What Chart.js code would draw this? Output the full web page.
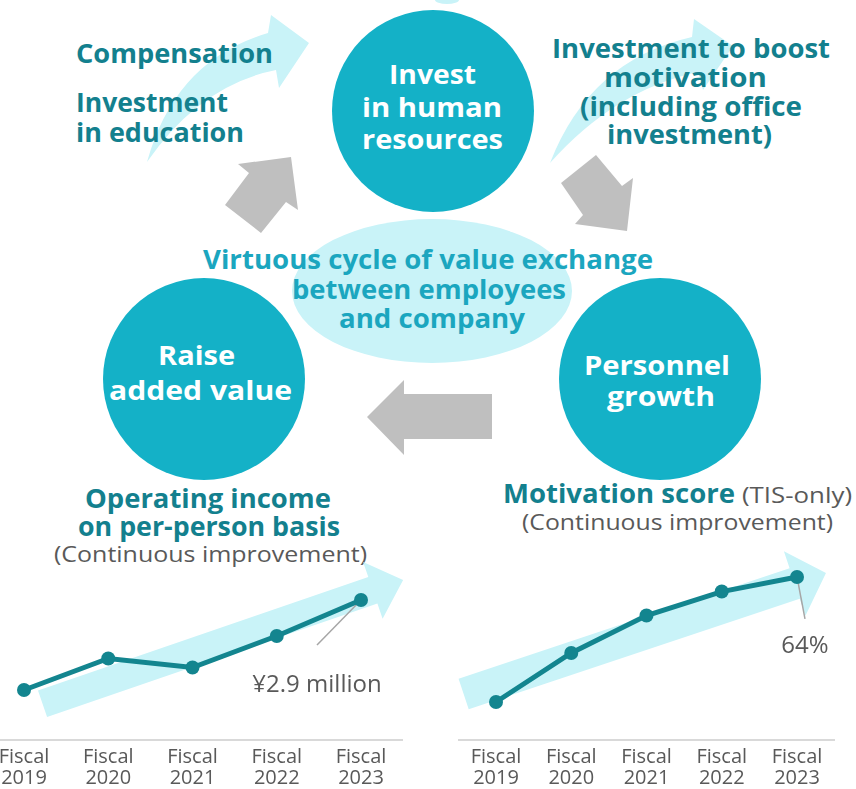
<!DOCTYPE html>
<html>
<head>
<meta charset="utf-8">
<script src="https://cdn.jsdelivr.net/npm/chart.js@4.4.1/dist/chart.umd.min.js"></script>
<style>
  html, body { margin: 0; padding: 0; background: #fff; }
  #wrap { position: relative; width: 856px; height: 789px; overflow: hidden; }
  #diagram { position: absolute; left: 0; top: 0; }
  .chart { position: absolute; }
  #income-box { left: -30px; top: 560px; }
  #motivation-box { left: 440px; top: 540px; }
</style>
</head>
<body>
<div id="wrap">
  <svg id="diagram" width="856" height="789" xmlns="http://www.w3.org/2000/svg">
    <!-- light blue curved arrows -->
    <path d="M147,162 Q175,60 268,33 L271,15 L309,43 L279,88 L276,70 Q200,85 147,162 Z" fill="#c9f3f8"/>
    <path d="M550,163 Q590,60 692,37 L694,19 L733,46 L703,90 L698,72 Q615,90 550,163 Z" fill="#c9f3f8"/>
    <ellipse cx="447" cy="0" rx="12" ry="4" fill="#c9f3f8"/>
    <!-- grey cycle arrows -->
    <polygon points="238,164 291,157 298,210 286,202 261,233 225,205 249,173" fill="#bfbfbf"/>
    <polygon points="596,155 622,186 633,178 627,231 575,224 583,215 561,183" fill="#bfbfbf"/>
    <polygon points="367,417 404,380 404,394 492,394 492,439 404,439 404,455" fill="#bfbfbf"/>
    <!-- circles -->
    <circle cx="433" cy="111" r="101" fill="#14b1c7"/>
    <circle cx="204" cy="379" r="101" fill="#14b1c7"/>
    <circle cx="660" cy="379" r="101" fill="#14b1c7"/>
    <ellipse cx="432" cy="291" rx="140" ry="72" fill="#c9f3f8"/>
    <g id="texts" font-family="'Open Sans', sans-serif"></g>
  </svg>
  <div class="chart" id="income-box"><canvas id="chart-income" width="440" height="236"></canvas></div>
  <div class="chart" id="motivation-box"><canvas id="chart-motivation" width="416" height="256"></canvas></div>
</div>
<script>
// data
const years = ["2019", "2020", "2021", "2022", "2023"];
const incomeValues = [2.5, 2.64, 2.6, 2.74, 2.9];       // ¥ million per person
const motivationValues = [52, 56.7, 60.3, 62.6, 64];    // %
const incomeCallout = "¥2.9 million";
const motivationCallout = "64%";

const teal = "#13808e";
const lineColor = "#13858f";
const paleBlue = "#c9f3f8";
const grey = "#595959";
const font = "'Open Sans', sans-serif";

// diagram text: [text, centre x, baseline, width, size, weight, colour]
const W = "#ffffff", C = "#1ba6bf";
const texts = [
  ["Compensation", 174.5, 63, 197, 27, 700, teal],
  ["Investment", 152, 112, 152, 27, 700, teal],
  ["in education", 160, 142, 168, 27, 700, teal],
  ["Investment to boost", 691, 58, 278, 27, 700, teal],
  ["motivation", 685.5, 87, 163, 27, 700, teal],
  ["(including office", 691, 116, 222, 27, 700, teal],
  ["investment)", 689.5, 144, 165, 27, 700, teal],
  ["Invest", 432.5, 84, 87, 27, 700, W],
  ["in human", 432, 117, 140, 27, 700, W],
  ["resources", 432.5, 149, 141, 27, 700, W],
  ["Raise", 196.5, 365, 77, 27, 700, W],
  ["added value", 200.5, 400, 183, 27, 700, W],
  ["Personnel", 657, 375, 146, 27, 700, W],
  ["growth", 661, 406, 108, 27, 700, W],
  ["Virtuous cycle of value exchange", 428, 269, 450, 27, 700, C],
  ["between employees", 429, 299, 274, 27, 700, C],
  ["and company", 432, 328, 186, 27, 700, C],
  ["Operating income", 208, 508, 246, 27, 700, teal],
  ["on per-person basis", 209, 536, 262, 27, 700, teal],
  ["(Continuous improvement)", 210.5, 562, 313, 22, 400, grey],
  ["Motivation score", 619, 503, 232, 27, 700, teal],
  ["(TIS-only)", 797, 503, 110, 22, 400, grey],
  ["(Continuous improvement)", 677.5, 530, 311, 22, 400, grey],
];
const g = document.getElementById("texts");
texts.forEach(([t, x, y, w, size, weight, color]) => {
  const el = document.createElementNS("http://www.w3.org/2000/svg", "text");
  el.setAttribute("x", x);
  el.setAttribute("y", y);
  el.setAttribute("text-anchor", "middle");
  el.setAttribute("textLength", w);
  el.setAttribute("lengthAdjust", "spacingAndGlyphs");
  el.setAttribute("font-size", size);
  el.setAttribute("font-weight", weight);
  el.setAttribute("fill", color);
  el.textContent = t;
  g.appendChild(el);
});

// trend arrow behind the line, axis rule and value callout
const trendArrow = {
  id: "trendArrow",
  beforeDatasetsDraw(chart, args, opts) {
    const { ctx, scales: { x, y } } = chart;
    const x0 = x.getPixelForValue(opts.from[0]), y0 = y.getPixelForValue(opts.from[1]);
    const x1 = x.getPixelForValue(opts.to[0]), y1 = y.getPixelForValue(opts.to[1]);
    const len = Math.hypot(x1 - x0, y1 - y0);
    const ux = (x1 - x0) / len, uy = (y1 - y0) / len;
    const nx = -uy, ny = ux;
    const bx = x1 - ux * opts.headLen, by = y1 - uy * opts.headLen;
    const pts = [
      [x0 + nx * opts.body, y0 + ny * opts.body],
      [bx + nx * opts.body, by + ny * opts.body],
      [bx + nx * opts.headHalf, by + ny * opts.headHalf],
      [x1, y1],
      [bx - nx * opts.headHalf, by - ny * opts.headHalf],
      [bx - nx * opts.body, by - ny * opts.body],
      [x0 - nx * opts.body, y0 - ny * opts.body],
    ];
    ctx.save();
    ctx.fillStyle = paleBlue;
    ctx.beginPath();
    pts.forEach(([px, py], i) => (i ? ctx.lineTo(px, py) : ctx.moveTo(px, py)));
    ctx.closePath();
    ctx.fill();

    // axis rule
    ctx.strokeStyle = "#d9d9d9";
    ctx.lineWidth = 2;
    ctx.beginPath();
    ctx.moveTo(opts.rule[0], x.top);
    ctx.lineTo(opts.rule[1], x.top);
    ctx.stroke();

    // leader line from the last point
    const meta = chart.getDatasetMeta(0);
    const last = meta.data[meta.data.length - 1];
    ctx.strokeStyle = "#a6a6a6";
    ctx.lineWidth = 1.5;
    ctx.beginPath();
    ctx.moveTo(last.x, last.y);
    ctx.lineTo(last.x + opts.leader[0], last.y + opts.leader[1]);
    ctx.stroke();

    ctx.fillStyle = grey;
    ctx.font = "24px " + font;
    ctx.textAlign = "center";
    ctx.textBaseline = "alphabetic";
    ctx.fillText(opts.text, last.x + opts.textAt[0], last.y + opts.textAt[1]);
    ctx.restore();
  },
};

function lineChart(id, values, yMin, yMax, padding, arrow) {
  return new Chart(document.getElementById(id), {
    type: "line",
    data: {
      labels: years.map((yr) => ["Fiscal", yr]),
      datasets: [
        {
          data: values,
          borderColor: lineColor,
          backgroundColor: lineColor,
          borderWidth: 5,
          pointRadius: 7,
          pointBorderWidth: 0,
          pointBackgroundColor: lineColor,
          tension: 0,
          clip: false,
        },
      ],
    },
    options: {
      responsive: false,
      animation: false,
      layout: { padding },
      plugins: { legend: { display: false }, tooltip: { enabled: false }, trendArrow: arrow },
      scales: {
        x: {
          grid: { display: false, drawTicks: false },
          border: { display: false },
          ticks: {
            color: grey,
            padding: 7,
            autoSkip: false,
            maxRotation: 0,
            font: { family: font, size: 20, lineHeight: 1.05 },
          },
        },
        y: { display: false, min: yMin, max: yMax },
      },
    },
    plugins: [trendArrow],
  });
}

lineChart("chart-income", incomeValues, 2.278, 3.033,
  { left: 54, right: 49, top: 10, bottom: 0 },
  {
    from: [0.22, 2.439], to: [4.5, 2.989],
    body: 14, headLen: 32, headHalf: 30,
    rule: [30, 433],
    leader: [-44, 45],
    text: incomeCallout, textAt: [-44, 92],
  });

lineChart("chart-motivation", motivationValues, 48.35, 66.59,
  { left: 56, right: 59, top: 10, bottom: 0 },
  {
    from: [-0.43, 52.77], to: [4.385, 64.38],
    body: 16, headLen: 33, headHalf: 34,
    rule: [18, 395],
    leader: [8, 42],
    text: motivationCallout, textAt: [8, 76],
  });
</script>
</body>
</html>
